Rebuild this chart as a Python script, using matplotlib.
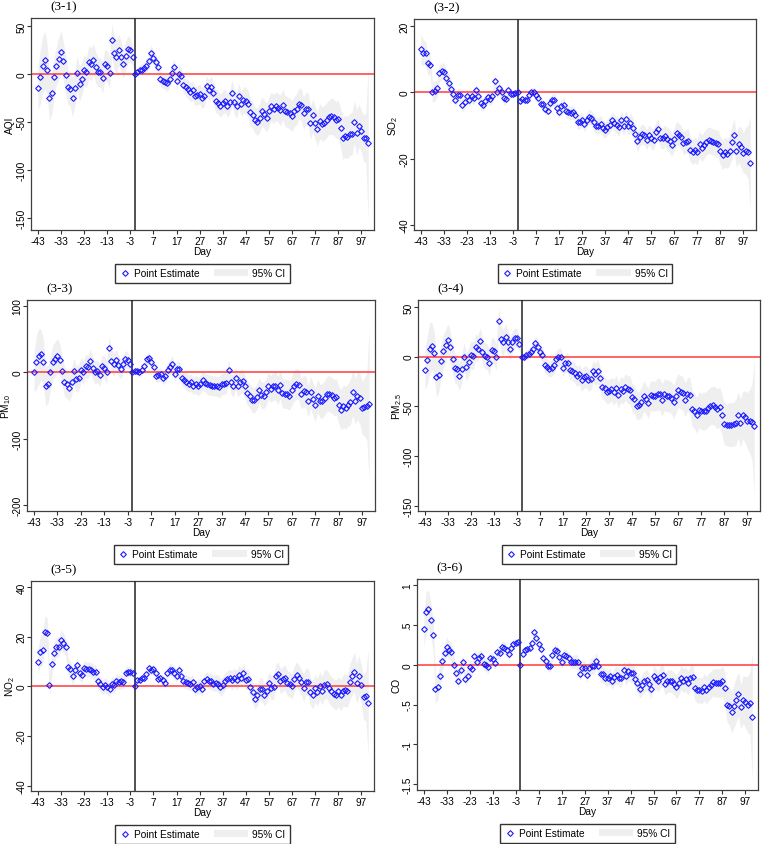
import numpy as np
import matplotlib
matplotlib.use("Agg")
import matplotlib.pyplot as plt
from matplotlib.patches import Patch, Rectangle
from matplotlib.lines import Line2D
from matplotlib.legend_handler import HandlerPatch

plt.rcParams['font.family'] = ['Liberation Sans', 'DejaVu Sans']
plt.rcParams['axes.unicode_minus'] = False
plt.rcParams['mathtext.default'] = 'regular'

days = np.arange(-43, 101)
xticks = np.arange(-43, 98, 10)

# point estimates, one per day from -43 to 100
aqi = [-15, -3.5, 8.7, 14.6, 4.5, -25, -20, -3.5, 8.7, 16,
       23, 13.5, -1, -13.5, -15.6, -24.7, -14.6, 1, -10.4, -5,
       3.8, 1.7, 12.5, 10, 15, 7, 2, 1.7, -4, 10,
       8, 1, 35, 22, 18, 25, 18, 10, 19, 26,
       25, 18, 0,
       2.4, 4.5, 4.5, 6.6, 8.3, 13, 22, 17, 12.5, 7,
       -5, -7, -8, -9, -5, 1, 7, -7, 0, -2,
       -11, -14, -16, -19, -17, -23, -22, -21, -25, -23,
       -13, -17, -13.5, -20, -28, -30, -33, -30, -28, -33,
       -29.5, -19.5, -29.5, -33, -23, -31, -27, -28, -31, -40,
       -43, -48, -50, -45.5, -39, -42, -45.5, -39, -33.7, -36.5,
       -33.7, -35, -38, -32, -38.5, -40, -41, -44, -39, -36.5,
       -31, -32, -41, -36.5, -36.5, -51, -43, -51, -57, -49,
       -52, -51, -48, -45, -44, -45, -48, -47, -56, -67,
       -65, -66, -63, -62, -50, -61, -54, -59, -67, -67,
       -72]
so2 = [13.1, 12, 11.9, 8.8, 8.4, 0, 0.4, 1.2, 5.8, 6.5,
       6.3, 4.4, 2.8, 1, -0.5, -2.2, -0.8, -0.7, -3.9, -2.8,
       -1, -2.2, -1.2, -1.8, 0.6, -1, -3.2, -3.7, -2.5, -1.3,
       -2, -1.2, 3.4, 0.2, 1.3, 0, -1.8, -1.9, 0.8, -0.6,
       -0.4, -0.2, 0,
       -2.6, -2, -2.4, -2.2, -0.8, 0.2, 0.1, -0.8, -1.8, -3.4,
       -3.4, -5, -5.5, -3.1, -2.3, -2.2, -4.8, -5.8, -4.2, -3.7,
       -5.7, -6, -6.3, -6, -6.8, -8.9, -8.9, -8.3, -9.6, -8.4,
       -7.3, -7.8, -8.8, -10.1, -10.1, -9.5, -10.8, -11.3, -10.4, -9.9,
       -8.4, -9.3, -9.9, -10.6, -8.3, -10.3, -8.1, -10.1, -9.3, -10.7,
       -12.6, -14.8, -13.4, -12.6, -12.9, -14.3, -12.8, -13.9, -14.3, -12.1,
       -11.1, -13.7, -13.9, -13.1, -14.1, -14.8, -15.8, -14.1, -12.4, -12.8,
       -13.6, -15.3, -14.9, -14.6, -17.3, -17.9, -17.5, -18, -15.7, -16.9,
       -15.9, -14.9, -14.4, -14.7, -15.1, -15.3, -15.5, -17.6, -18.8, -18.1,
       -18.5, -17.6, -15.1, -12.9, -17.6, -15.7, -16.6, -18.3, -17.6, -18,
       -21.4]
pm10 = [1, 15, 24, 27, 16, -21, -17, 0, 15, 20,
        25, 19, 2, -14, -17, -23, -15, 2, -10, -8,
        4, 0, 9, 8, 17, 7, 0, 2, -4, 9,
        7, 0, 37, 17, 12, 18, 11, 5, 13, 20,
        18, 13, 0,
        2, 2, 0, 4, 9, 20, 21, 16, 8, -5,
        -4, -3, -8, -5, 3, 8, 13, -2, 5, 5,
        -8, -11, -14, -17, -15, -20, -18, -21, -18, -12,
        -16, -18, -19, -20, -20, -21, -22, -18, -17, -16,
        3, -15, -21, -9, -20, -14, -13, -21, -31, -35,
        -41, -42, -37, -27, -34, -35, -30, -20, -25, -21,
        -20, -27, -19, -31, -32, -32, -35, -27, -20, -17,
        -19, -32, -28, -30, -43, -30, -40, -49, -35, -43,
        -43, -38, -32, -32, -34, -38, -37, -49, -56, -51,
        -53, -49, -45, -30, -43, -35, -39, -53, -52, -51,
        -48]
pm25 = [-13, -3.7, 8, 10.7, 3.4, -21, -18, -4.7, 5.4, 12,
        17, 9.4, -2, -11.7, -12.8, -20, -12, 0, -10.7, -5,
        2, 0.7, 9.7, 8, 16, 5, 1, 0, -6, 6.7,
        5.4, -0.7, 35.6, 17.4, 14.4, 20, 14.8, 7.4, 14.8, 18.8,
        18.5, 12.8, 0,
        0, 1.7, 2.7, 4.7, 8, 14, 9.7, 4.7, 2, -8,
        -10, -12.8, -11.7, -8.4, -2.7, -0.7, 0, -11.4, -6.4, -6,
        -13.4, -14.4, -16, -20, -17.8, -24, -21, -20, -23.8, -22.8,
        -14.8, -17.8, -14.8, -21.8, -30.5, -32, -35.6, -34.6, -33, -36,
        -32, -39, -33, -35, -30.5, -33, -33.6, -41, -43, -49.7,
        -49, -46, -39.6, -43, -47, -39, -40, -39.6, -37.6, -38,
        -43.6, -38, -39.6, -39.6, -41.6, -45.6, -39.6, -34, -36, -37,
        -43.6, -38, -39, -52.3, -54.4, -59, -53.7, -55, -55, -54.4,
        -51.7, -49.7, -49, -50.3, -52.3, -51, -58.4, -68, -68.5, -68.5,
        -68.5, -68, -66.4, -58.4, -67, -59, -60.4, -64.4, -65, -66,
        -70]
no2 = [9.9, 14, 14.7, 22, 21.4, 0.4, 9, 13.4, 15.8, 15.8,
       18.8, 17.4, 16, 7.9, 6.8, 4.2, 6.4, 8.4, 5.5, 4.6,
       7.4, 6.8, 6.8, 6.6, 5.8, 5.6, 2, 0.8, -0.4, 0.4,
       -0.3, -1.2, 1, 0.4, 2, 1.7, 2, 1.7, 5.2, 5.9,
       5.9, 5.5, 0,
       2.4, 2.5, 3.2, 3.5, 5.1, 7.4, 6.4, 6.8, 5.4, 2.8,
       3.2, 2.4, 1.2, 5.5, 6.7, 6.6, 5.5, 4, 6.6, 4.3,
       2.1, 1.9, 1.5, 1.1, 1.6, -0.9, -0.1, 0.1, -0.9, 2,
       2.8, 2.1, 2, 1.1, 1.5, 1.1, -0.3, 0.4, 2.1, 2.8,
       3.4, 2.4, 3.5, 2.4, 4.6, 3.2, 5.4, 2.5, 2.9, -0.3,
       -2.4, -5.1, -3.5, -1.1, -1.1, -3.5, -1.9, 1.2, -0.5, -0.4,
       4, 5.1, 2, 3.1, 3.5, 1.2, 0.8, 0, 3.1, 4.7,
       3.4, 1.7, -0.5, 1.9, 1.7, -2.1, -3.4, -0.8, -2.4, 0.3,
       -1.7, 0.7, 0.9, -0.7, -2, -2.9, -3.5, -2, -3.6, -1.9,
       -1.5, -1.9, 1.7, 4, 5.8, 1.2, 4.3, 0.7, -4.3, -3.8,
       -6.7]
co = [0.45, 0.66, 0.70, 0.56, 0.38, -0.30, -0.28, -0.14, 0.05, 0.15,
      0.23, 0.19, 0.16, 0, -0.10, -0.21, -0.06, 0.03, -0.18, -0.14,
      -0.03, -0.05, 0.11, 0.04, 0.09, 0.11, 0.01, 0, -0.03, 0.08,
      0.07, 0.02, 0.16, 0.15, 0.22, 0.21, 0.18, 0.13, 0.21, 0.26,
      0.28, 0.29, 0,
      0.14, 0.18, 0.20, 0.21, 0.27, 0.41, 0.34, 0.26, 0.20, 0.08,
      0.05, -0.02, -0.02, 0.12, 0.19, 0.17, 0.10, 0.03, 0.12, 0.11,
      0.08, 0.03, 0.04, 0.04, 0.03, -0.11, -0.04, -0.04, -0.13, -0.04,
      -0.01, -0.01, 0.05, -0.02, -0.12, -0.12, -0.16, -0.17, -0.14, -0.20,
      -0.15, -0.13, -0.17, -0.17, -0.06, -0.14, -0.08, -0.10, -0.10, -0.18,
      -0.23, -0.30, -0.25, -0.21, -0.19, -0.24, -0.30, -0.14, -0.18, -0.21,
      -0.15, -0.13, -0.24, -0.21, -0.20, -0.21, -0.24, -0.28, -0.23, -0.16,
      -0.20, -0.18, -0.23, -0.16, -0.15, -0.29, -0.32, -0.32, -0.33, -0.28,
      -0.32, -0.28, -0.25, -0.22, -0.23, -0.23, -0.23, -0.21, -0.29, -0.50,
      -0.52, -0.60, -0.52, -0.44, -0.37, -0.53, -0.44, -0.47, -0.50, -0.48,
      -0.66]

# half width of the 95% CI, one per day
aqi_ci = [22, 28, 30, 30, 26, 24, 22, 20, 20, 22,
          22, 20, 20, 18, 18, 20, 18, 18, 18, 17,
          16, 16, 17, 17, 16, 16, 15, 15, 16, 16,
          16, 16, 17, 18, 17, 16, 16, 15, 15, 14,
          12, 10, 0,
          4, 5, 6, 6, 7, 7, 8, 8, 8, 8,
          8, 8, 8, 9, 9, 9, 9, 9, 9, 9,
          9, 9, 10, 10, 10, 10, 10, 10, 11, 11,
          11, 11, 11, 12, 12, 12, 12, 12, 12, 12,
          12, 13, 13, 13, 13, 13, 14, 14, 14, 14,
          14, 14, 14, 15, 15, 15, 15, 15, 15, 15,
          15, 15, 16, 16, 16, 16, 16, 16, 16, 16,
          16, 17, 17, 17, 17, 17, 17, 17, 18, 18,
          18, 18, 18, 18, 19, 19, 19, 20, 20, 22,
          22, 22, 22, 22, 22, 24, 22, 22, 24, 26,
          82]
so2_ci = [4.5, 4, 3.5, 3.5, 3, 3, 3, 2.5, 2.5, 2.5,
          2.5, 2.5, 2.5, 2.5, 2, 2, 2, 2, 2, 2,
          2, 2, 2, 2, 2, 2, 2, 2, 2, 2,
          2, 2, 2, 2, 2, 2, 2, 1.5, 1.5, 1.5,
          1.2, 1, 0,
          0.8, 1, 1, 1.2, 1.2, 1.2, 1.5, 1.5, 1.5, 1.5,
          1.5, 1.5, 1.5, 1.8, 1.8, 1.8, 1.8, 2, 2, 2,
          2, 2, 2, 2, 2, 2.2, 2.2, 2.2, 2.2, 2.2,
          2.2, 2.2, 2.5, 2.5, 2.5, 2.5, 2.5, 2.5, 2.5, 2.5,
          2.5, 2.5, 2.5, 2.8, 2.8, 2.8, 2.8, 2.8, 3, 3,
          3, 3, 3, 3, 3, 3, 3, 3.2, 3.2, 3.2,
          3.2, 3.2, 3.2, 3.2, 3.5, 3.5, 3.5, 3.5, 3.5, 3.5,
          3.5, 3.5, 3.5, 3.8, 3.8, 3.8, 3.8, 3.8, 4, 4,
          4, 4, 4, 4, 4, 4, 4.2, 4.2, 4.5, 4.5,
          4.5, 4.5, 5, 5, 5, 5.5, 6, 6, 7, 8,
          14]
pm10_ci = [30, 40, 42, 38, 34, 30, 28, 26, 26, 26,
           26, 24, 22, 22, 22, 20, 20, 20, 20, 20,
           18, 18, 18, 18, 18, 17, 17, 17, 17, 17,
           17, 17, 18, 18, 17, 16, 16, 15, 14, 13,
           12, 9, 0,
           5, 6, 7, 7, 8, 8, 9, 9, 9, 10,
           10, 10, 10, 11, 11, 11, 12, 12, 12, 12,
           12, 12, 13, 13, 13, 13, 14, 14, 14, 14,
           14, 15, 15, 15, 15, 15, 16, 16, 16, 16,
           16, 17, 17, 17, 17, 18, 18, 18, 18, 18,
           19, 19, 19, 19, 20, 20, 20, 20, 20, 21,
           21, 21, 21, 22, 22, 22, 22, 22, 23, 23,
           23, 23, 24, 24, 24, 24, 25, 25, 25, 25,
           26, 26, 26, 27, 27, 27, 28, 28, 30, 32,
           32, 32, 34, 34, 34, 36, 38, 40, 44, 50,
           115]
pm25_ci = [20, 24, 26, 24, 22, 20, 18, 17, 16, 16,
           16, 16, 15, 15, 15, 14, 14, 14, 14, 14,
           14, 14, 13, 13, 13, 13, 13, 13, 13, 13,
           13, 13, 14, 14, 13, 13, 12, 12, 11, 10,
           9, 7, 0,
           4, 5, 5, 6, 6, 7, 7, 7, 8, 8,
           8, 8, 8, 9, 9, 9, 9, 9, 9, 10,
           10, 10, 10, 10, 10, 11, 11, 11, 11, 11,
           11, 11, 12, 12, 12, 12, 12, 12, 12, 13,
           13, 13, 13, 13, 13, 14, 14, 14, 14, 14,
           14, 15, 15, 15, 15, 15, 15, 15, 16, 16,
           16, 16, 16, 16, 16, 17, 17, 17, 17, 17,
           17, 17, 18, 18, 18, 18, 18, 18, 19, 19,
           19, 19, 19, 20, 20, 20, 20, 21, 21, 22,
           22, 22, 23, 23, 24, 24, 26, 28, 32, 38,
           68]
no2_ci = [5, 6, 6.5, 6.5, 6, 5, 4.5, 4, 4, 4,
          4, 4, 3.5, 3.5, 3.5, 3.5, 3, 3, 3, 3,
          3, 3, 3, 3, 3, 3, 3, 3, 3, 3,
          3, 3, 3, 3, 3, 3, 3, 2.5, 2.5, 2,
          2, 1.5, 0,
          1, 1.2, 1.5, 1.5, 1.8, 1.8, 2, 2, 2, 2,
          2, 2.2, 2.2, 2.2, 2.5, 2.5, 2.5, 2.5, 2.5, 2.5,
          2.8, 2.8, 2.8, 2.8, 3, 3, 3, 3, 3, 3,
          3, 3.2, 3.2, 3.2, 3.2, 3.5, 3.5, 3.5, 3.5, 3.5,
          3.5, 3.8, 3.8, 3.8, 3.8, 4, 4, 4, 4, 4.2,
          4.2, 4.2, 4.2, 4.5, 4.5, 4.5, 4.5, 4.5, 4.8, 4.8,
          4.8, 4.8, 5, 5, 5, 5, 5, 5, 5.2, 5.2,
          5.2, 5.2, 5.5, 5.5, 5.5, 5.5, 5.5, 5.5, 5.5, 5.5,
          5.8, 5.8, 5.8, 5.8, 6, 6, 6, 6, 6.2, 6.2,
          6.5, 6.5, 7, 7.5, 8, 8, 8, 8, 9, 10,
          22]
co_ci = [0.22, 0.26, 0.24, 0.22, 0.2, 0.18, 0.16, 0.14, 0.13, 0.12,
         0.12, 0.11, 0.11, 0.1, 0.1, 0.1, 0.1, 0.09, 0.09, 0.09,
         0.09, 0.09, 0.09, 0.09, 0.08, 0.08, 0.08, 0.08, 0.08, 0.08,
         0.08, 0.08, 0.08, 0.08, 0.08, 0.08, 0.07, 0.07, 0.07, 0.06,
         0.05, 0.04, 0,
         0.03, 0.04, 0.04, 0.05, 0.05, 0.05, 0.06, 0.06, 0.06, 0.06,
         0.06, 0.07, 0.07, 0.07, 0.07, 0.07, 0.08, 0.08, 0.08, 0.08,
         0.08, 0.08, 0.08, 0.09, 0.09, 0.09, 0.09, 0.09, 0.09, 0.09,
         0.1, 0.1, 0.1, 0.1, 0.1, 0.1, 0.1, 0.1, 0.1, 0.11,
         0.11, 0.11, 0.11, 0.11, 0.11, 0.12, 0.12, 0.12, 0.12, 0.12,
         0.12, 0.12, 0.13, 0.13, 0.13, 0.13, 0.13, 0.13, 0.13, 0.13,
         0.14, 0.14, 0.14, 0.14, 0.14, 0.14, 0.14, 0.15, 0.15, 0.15,
         0.15, 0.15, 0.15, 0.15, 0.16, 0.16, 0.16, 0.16, 0.16, 0.17,
         0.17, 0.17, 0.17, 0.17, 0.18, 0.18, 0.18, 0.19, 0.2, 0.22,
         0.24, 0.26, 0.27, 0.28, 0.28, 0.28, 0.3, 0.32, 0.35, 0.4,
         0.8]

titles = ['(3-1)', '(3-2)', '(3-3)', '(3-4)', '(3-5)', '(3-6)']
ylabels = ['AQI', 'SO$_2$', 'PM$_{10}$', 'PM$_{2.5}$', 'NO$_2$', 'CO']
ytick_vals = [[50, 0, -50, -100, -150], [20, 0, -20, -40], [100, 0, -100, -200],
              [50, 0, -50, -100, -150], [40, 20, 0, -20, -40], [1, .5, 0, -.5, -1, -1.5]]
ytick_labels = [['50', '0', '-50', '-100', '-150'], ['20', '0', '-20', '-40'],
                ['100', '0', '-100', '-200'], ['50', '0', '-50', '-100', '-150'],
                ['40', '20', '0', '-20', '-40'], ['1', '.5', '0', '-.5', '-1', '-1.5']]
ylims = [(-162.5, 58.3), (-41.6, 22.2), (-208.5, 109), (-155.4, 57), (-42.1, 42.4), (-1.576, 1.08)]
estimates = [aqi, so2, pm10, pm25, no2, co]
cis = [aqi_ci, so2_ci, pm10_ci, pm25_ci, no2_ci, co_ci]

# axes boxes in pixels: left, right, top, bottom
boxes = [(31, 374, 19, 231), (414, 756, 20, 231),
         (27, 375, 301, 512), (418, 760, 301, 512),
         (31, 374, 582, 792), (417, 758, 580, 791)]

W, H = 762, 845
fig = plt.figure(figsize=(W / 100, H / 100), dpi=100)
fig.patch.set_facecolor('white')

band_color = '#efefef'
blue = '#1a1aff'


def wide_patch(legend, orig_handle, xdescent, ydescent, width, height, fontsize):
    w = 3.4 * width
    return Rectangle((-xdescent + width - w, -ydescent), w, height)


for i in range(6):
    l, r, t, b = boxes[i]
    ax = fig.add_axes([l / W, 1 - b / H, (r - l) / W, (b - t) / H])
    est = np.array(estimates[i])
    half = np.array(cis[i])
    ax.fill_between(days, est - half, est + half, color=band_color, lw=0, zorder=1)
    ax.axhline(0, color='#ff3b3b', lw=1.1, zorder=2)
    ax.axvline(-1, color='#222222', lw=1.1, zorder=3)
    ax.plot(days, est, ls='none', marker='D', ms=2.9, mfc='none', mec=blue,
            mew=0.8, zorder=4)
    ax.set_xlim(-46, 102.5)
    ax.set_ylim(*ylims[i])
    ax.set_xticks(xticks)
    ax.set_xticklabels([str(x) for x in xticks])
    ax.set_yticks(ytick_vals[i])
    ax.set_yticklabels(ytick_labels[i], rotation=90, va='center', ha='center')
    ax.tick_params(labelsize=7.3, length=2.9, width=0.8, color='#333333')
    ax.tick_params(axis='x', pad=1.5)
    ax.tick_params(axis='y', pad=3.9)
    for s in ax.spines.values():
        s.set_color('#404040')
        s.set_linewidth(0.9)
    ax.set_xlabel('Day', fontsize=7.3, labelpad=0)
    ax.set_ylabel(ylabels[i], fontsize=7.3, va='center')
    ax.yaxis.set_label_coords(-21 / (r - l), 0.5)
    fig.text((l + 33) / W, 1 - (t - 12) / H, titles[i], fontsize=9.5,
             family='Liberation Serif', ha='center', va='center')

    h1 = Line2D([], [], ls='none', marker='D', ms=2.9, mfc='none', mec=blue, mew=0.8)
    h2 = Patch(facecolor=band_color, edgecolor='none')
    ax.legend([h1, h2], ['Point Estimate', '95% CI'], loc='upper center',
              bbox_to_anchor=(0.5, -0.136), ncol=2, fontsize=7.3, frameon=True,
              fancybox=False, edgecolor='#333333', framealpha=1,
              handlelength=1.0, handletextpad=0.4, columnspacing=3.8,
              borderpad=0.45, numpoints=1,
              handler_map={Patch: HandlerPatch(patch_func=wide_patch)})

fig.savefig('out.png', dpi=100)
